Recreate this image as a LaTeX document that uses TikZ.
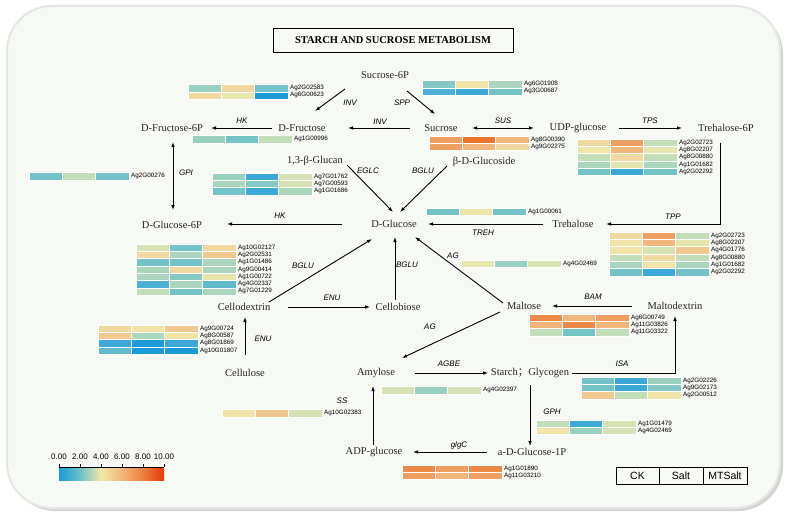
\documentclass[tikz,border=0pt]{standalone}
\usepackage{fontspec}
\setmainfont{Liberation Serif}
\setsansfont{Liberation Sans}
\newfontfamily\cjkfont{Noto Sans CJK SC}
\usetikzlibrary{arrows.meta,calc}
\definecolor{b0}{HTML}{1A9BD7}
\definecolor{b1}{HTML}{3BA8D5}
\definecolor{b2}{HTML}{4CB0D2}
\definecolor{t0}{HTML}{60BACB}
\definecolor{t1}{HTML}{72C2C7}
\definecolor{t2}{HTML}{86C9C4}
\definecolor{g0}{HTML}{9AD0C0}
\definecolor{g1}{HTML}{ABD6BE}
\definecolor{g2}{HTML}{C2DDB8}
\definecolor{g3}{HTML}{D6E2B3}
\definecolor{y0}{HTML}{E6E5AE}
\definecolor{y1}{HTML}{F1E4A8}
\definecolor{y2}{HTML}{F0D8A0}
\definecolor{o0}{HTML}{F0C890}
\definecolor{o1}{HTML}{F1B67C}
\definecolor{o2}{HTML}{EF9F62}
\definecolor{o3}{HTML}{EC8A4A}
\definecolor{o4}{HTML}{E8742E}
\definecolor{bgc}{HTML}{F7F9F4}
\definecolor{bdc}{HTML}{E6E6E6}
\definecolor{shc}{HTML}{D4D4D4}
\definecolor{cb0}{HTML}{1A9BD7}
\definecolor{cb2}{HTML}{6DC0C8}
\definecolor{cb4}{HTML}{F2E8A8}
\definecolor{cb6}{HTML}{F2B67A}
\definecolor{cb8}{HTML}{EC7E40}
\definecolor{cb10}{HTML}{E63B0A}
\pgfdeclarehorizontalshading{cbar}{100bp}{color(0bp)=(cb0); color(25bp)=(cb0); color(35bp)=(cb2); color(45bp)=(cb4); color(55bp)=(cb6); color(65bp)=(cb8); color(75bp)=(cb10); color(100bp)=(cb10)}
\tikzset{
  met/.style={font=\fontsize{10.5}{12}\selectfont, inner sep=1pt, text=black!85},
  enz/.style={font=\sffamily\itshape\fontsize{8}{9}\selectfont, inner sep=0.5pt},
  gene/.style={anchor=west, inner sep=0pt, font=\sffamily\fontsize{6.3}{7}\selectfont},
  cell/.style={draw=white, line width=0.5pt},
  arr/.style={-{Latex[length=5pt,width=3.6pt]}, line width=0.9pt},
  darr/.style={{Latex[length=5pt,width=3.6pt]}-{Latex[length=5pt,width=3.6pt]}, line width=0.9pt},
  cbl/.style={font=\sffamily\fontsize{8}{9}\selectfont, inner sep=0pt},
  leg/.style={font=\sffamily\fontsize{10.5}{12}\selectfont, inner sep=0pt}
}
\newcommand\hmap[4]{%
  \foreach \ca/\cb/\cc/\lab [count=\i from 0] in {#4}{%
    \path[cell,fill=\ca] (#1,#2+\i*7.3) rectangle ++(33.3,7.3);
    \path[cell,fill=\cb] (#1+33.3,#2+\i*7.3) rectangle ++(33.3,7.3);
    \path[cell,fill=\cc] (#1+66.6,#2+\i*7.3) rectangle ++(33.4,7.3);
    \node[gene] (#3\i) at (#1+102,#2+\i*7.3+3.65) {\lab};
  }%
}
\begin{document}
\begin{tikzpicture}[x=1pt,y=-1pt]
\useasboundingbox (0,0) rectangle (787,516);
\fill[white] (0,0) rectangle (787,516);
\fill[shc, rounded corners=45pt] (10,9) rectangle (783,511);
\filldraw[fill=bgc, draw=bdc, line width=2pt, rounded corners=45pt] (7,6) rectangle (780,508);

% title
\node[draw, line width=0.9pt, minimum width=240pt, minimum height=24pt, font=\bfseries\fontsize{10.5}{12}\selectfont] (title) at (393,40) {STARCH AND SUCROSE METABOLISM};

% metabolites
\node[met] (s6p) at (385,75) {Sucrose-6P};
\node[met] (fru) at (302,128) {D-Fructose};
\node[met] (f6p) at (172,128) {D-Fructose-6P};
\node[met] (suc) at (441,128) {Sucrose};
\node[met] (udp) at (578,128) {UDP-glucose};
\node[met] (t6p) at (726,128) {Trehalose-6P};
\node[met] (glcn) at (315,161) {1,3-β-Glucan};
\node[met] (bglc) at (484,162) {β-D-Glucoside};
\node[met] (glc) at (394,224) {D-Glucose};
\node[met] (g6p) at (172,225) {D-Glucose-6P};
\node[met] (tre) at (573,224) {Trehalose};
\node[met] (cdx) at (244,307) {Cellodextrin};
\node[met] (cbi) at (398,307) {Cellobiose};
\node[met] (mal) at (524,306) {Maltose};
\node[met] (mdx) at (675,306) {Maltodextrin};
\node[met] (cel) at (245,373) {Cellulose};
\node[met] (amy) at (376,373) {Amylose};
\node[met] (stc) at (530,373) {Starch{\cjkfont ；}Glycogen};
\node[met] (adp) at (374,452) {ADP-glucose};
\node[met] (g1p) at (532,452) {a-D-Glucose-1P};

% arrows
\draw[arr] ($(s6p)+(-40,14)$) -- ($(fru)+(13,-17)$);
\draw[arr] ($(s6p)+(22,16)$) -- ($(suc)+(-6,-14)$);
\draw[arr] ($(fru)+(-30,0)$) -- ($(f6p)+(39,0)$);
\draw[arr] ($(suc)+(-31,0)$) -- ($(fru)+(46,0)$);
\draw[darr] ($(suc)+(31,0)$) -- ($(udp)+(-44,0)$);
\draw[arr] ($(udp)+(41,0)$) -- ($(t6p)+(-44,0)$);
\draw[darr] ($(f6p)+(1,14)$) -- ($(g6p)+(1,-15)$);
\draw[arr] ($(glcn)+(32,4)$) -- ($(glc)+(-1,-12)$);
\draw[arr] ($(bglc)+(-37,4)$) -- ($(glc)+(6,-12)$);
\draw[arr] ($(glc)+(-52,0)$) -- ($(g6p)+(55,-1)$);
\draw[arr] ($(t6p)+(-6,15)$) |- ($(tre)+(33,0)$);
\draw[arr] ($(tre)+(-30,0)$) -- ($(glc)+(34,0)$);
\draw[arr] ($(cdx)+(25,-5)$) -- ($(glc)+(-22,15)$);
\draw[arr] ($(cbi)+(-3,-7)$) -- ($(glc)+(1,13)$);
\draw[arr] ($(cdx)+(44,0)$) -- ($(cbi)+(-28,0)$);
\draw[arr] ($(cel)+(0,-18)$) -- ($(cdx)+(1,10)$);
\draw[arr] ($(mal)+(-21,-3)$) -- ($(glc)+(21,13)$);
\draw[arr] ($(mdx)+(-43,0)$) -- ($(mal)+(28,0)$);
\draw[arr] ($(mal)+(-24,6)$) -- ($(amy)+(26,-15)$);
\draw[arr] ($(amy)+(39,0)$) -- ($(stc)+(-42,0)$);
\draw[arr] ($(stc)+(42,0)$) -| ($(mdx)+(0,10)$);
\draw[arr] ($(stc)+(0,12)$) -- ($(g1p)+(-2,-6)$);
\draw[arr] ($(g1p)+(-45,0)$) -- ($(adp)+(39,0)$);
\draw[arr] ($(adp)+(-1,-7)$) -- ($(amy)+(-3,13)$);

% enzyme labels
\node[enz] (e1) at (350,103) {INV};
\node[enz] (e2) at (402,103) {SPP};
\node[enz] (e3) at (242,121) {HK};
\node[enz] (e4) at (380,122) {INV};
\node[enz] (e5) at (503,121) {SUS};
\node[enz] (e6) at (650,121) {TPS};
\node[enz] (e7) at (186,173) {GPI};
\node[enz] (e8) at (368,171) {EGLC};
\node[enz] (e9) at (423,171) {BGLU};
\node[enz] (e10) at (280,216) {HK};
\node[enz] (e11) at (673,217) {TPP};
\node[enz] (e12) at (483,233) {TREH};
\node[enz] (e13) at (303,266) {BGLU};
\node[enz] (e14) at (407,265) {BGLU};
\node[enz] (e15) at (332,298) {ENU};
\node[enz] (e16) at (263,339) {ENU};
\node[enz] (e17) at (453,256) {AG};
\node[enz] (e18) at (593,297) {BAM};
\node[enz] (e19) at (430,327) {AG};
\node[enz] (e20) at (449,364) {AGBE};
\node[enz] (e21) at (622,364) {ISA};
\node[enz] (e22) at (552,412) {GPH};
\node[enz] (e23) at (459,445) {glgC};
\node[enz] (e24) at (342,401) {SS};

% heatmaps
\hmap{188}{84.5}{ha}{g0/y2/t1/Ag2G02583, y2/y0/b0/Ag6G00623}
\hmap{422}{80.5}{hb}{t2/y1/g1/Ag6G01908, b2/b1/t1/Ag3G00687}
\hmap{192}{135.5}{hc}{g0/t1/g2/Ag1G00996}
\hmap{429}{136}{hd}{o2/o4/o1/Ag8G00390, o2/o1/y2/Ag9G02275}
\hmap{577}{139}{he}{y2/o2/g2/Ag2G02723, y1/o1/y0/Ag8G02207, g2/y2/g2/Ag8G00880, g1/y0/g1/Ag1G01682, t1/b1/t1/Ag2G02292}
\hmap{29}{172.5}{hf}{t1/g2/t1/Ag2G00276}
\hmap{212}{173}{hg}{g0/b1/g3/Ag7G01762, g1/t2/g3/Ag7G00593, t1/b1/g1/Ag1G01686}
\hmap{426}{208}{hh}{t1/y1/t1/Ag1G00061}
\hmap{136}{244}{hi}{g3/t1/y2/Ag10G02127, y2/g1/o0/Ag2G02531, t1/t1/g1/Ag1G01486, g1/y2/g1/Ag9G00414, g1/t2/y0/Ag1G00722, b2/g1/t0/Ag4G02337, g2/t1/g1/Ag7G01229}
\hmap{461}{260}{hj}{y0/g0/g3/Ag4G02469}
\hmap{98}{325}{hk}{y2/y1/o0/Ag9G00724, o0/g1/y1/Ag8G00587, b1/b0/b1/Ag8G01869, t0/b0/b0/Ag10G01807}
\hmap{609}{232}{hl}{y2/o2/g2/Ag2G02723, y1/o1/y0/Ag8G02207, y1/g3/o0/Ag4G01776, g2/y2/g2/Ag8G00880, g1/y1/g1/Ag1G01682, t1/b1/t1/Ag2G02292}
\hmap{529}{314}{hm}{o3/o1/o2/Ag6G00749, o1/o3/o1/Ag11G03826, g2/t1/g2/Ag11G03322}
\hmap{581}{377}{hn}{t1/b1/g0/Ag2G02226, t1/b1/t2/Ag9G02173, o0/g2/y1/Ag2G00512}
\hmap{381}{386.5}{ho}{g3/g0/g3/Ag4G02397}
\hmap{222}{409.5}{hp}{y1/o0/g3/Ag10G02383}
\hmap{536}{420}{hq}{g2/b1/g3/Ag1G01479, y1/g0/g3/Ag4G02469}
\hmap{402}{465}{hr}{o3/o2/o3/Ag1G01890, o2/o1/o2/Ag11G03210}

% colour bar
\shade[shading=cbar] (59,467) rectangle (164,480);
\draw[line width=0.6pt] (59,467) -- (164,467);
\foreach \v [count=\k from 0] in {0.00,2.00,4.00,6.00,8.00,10.00}{
  \draw[line width=0.5pt] (59+\k*21,467) -- ++(0,-3);
  \node[cbl] (cl\k) at (59+\k*21,457) {\v};
}

% legend
\draw[line width=0.7pt] (616,467) rectangle (747,484);
\draw[line width=0.7pt] (659,467) -- (659,484);
\draw[line width=0.7pt] (703,467) -- (703,484);
\node[leg] (ck) at (637.5,475.5) {CK};
\node[leg] (salt) at (681,475.5) {Salt};
\node[leg] (mts) at (725,475.5) {MTSalt};
\end{tikzpicture}
\end{document}
